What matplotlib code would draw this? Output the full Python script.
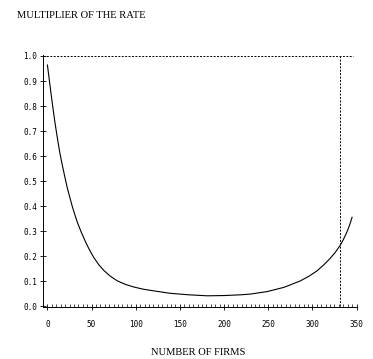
import matplotlib.pyplot as plt
from matplotlib.ticker import MultipleLocator, FormatStrFormatter

# curve
firms = [0, 3, 5.7, 8.5, 11.3, 14, 17, 20, 22.6, 25.5, 28, 31, 34, 38, 43, 47, 52, 58, 64,
         71, 79, 88, 98, 109, 120, 139, 160, 181, 200, 219, 230, 249, 268, 286, 296,
         305, 313, 320, 326, 331, 335, 339, 342, 345]
multiplier = [0.964, 0.88, 0.806, 0.735, 0.671, 0.614, 0.561, 0.512, 0.471, 0.433, 0.40,
              0.366, 0.334, 0.298, 0.258, 0.229, 0.197, 0.166, 0.142, 0.12, 0.101, 0.087,
              0.076, 0.067, 0.061, 0.051, 0.045, 0.041, 0.042, 0.045, 0.048, 0.058, 0.075,
              0.1, 0.119, 0.14, 0.165, 0.19, 0.215, 0.24, 0.265, 0.295, 0.322, 0.355]
cutoff = 331
ceiling = 1.0

fig = plt.figure(figsize=(3.73, 3.59), dpi=100)
ax = fig.add_axes([0.1153, 0.144, 0.8405, 0.7035])

ax.plot(firms, multiplier, color='black', lw=0.8, solid_joinstyle='round')
ax.plot([-5, 346], [ceiling, ceiling], color='black', lw=0.7, ls=(0, (2, 1.5)))
ax.plot([cutoff, cutoff], [0, ceiling], color='black', lw=0.7, ls=(0, (2, 1.5)))

ax.set_xlim(-5, 350)
ax.set_ylim(-0.005, 1.005)
ax.spines['top'].set_visible(False)
ax.spines['right'].set_visible(False)
for s in ['left', 'bottom']:
    ax.spines[s].set_linewidth(0.7)

ax.xaxis.set_major_locator(MultipleLocator(50))
ax.xaxis.set_minor_locator(MultipleLocator(5))
ax.yaxis.set_major_locator(MultipleLocator(0.1))
ax.yaxis.set_major_formatter(FormatStrFormatter('%.1f'))
ax.tick_params(axis='both', which='major', direction='inout', length=5, width=0.6,
               labelsize=5.5)
ax.tick_params(axis='y', which='major', pad=1.5)
ax.tick_params(axis='x', which='major', pad=7)
ax.tick_params(axis='x', which='minor', direction='in', length=2.5, width=0.5)
for lab in ax.get_xticklabels() + ax.get_yticklabels():
    lab.set_family('DejaVu Sans Mono')

fig.text(0.045, 0.958, 'MULTIPLIER OF THE RATE', family='Liberation Serif', fontsize=7.6,
         va='center', ha='left')
fig.text(0.53, 0.017, 'NUMBER OF FIRMS', family='Liberation Serif', fontsize=7.6,
         va='center', ha='center')

fig.savefig('out.png', dpi=100)
